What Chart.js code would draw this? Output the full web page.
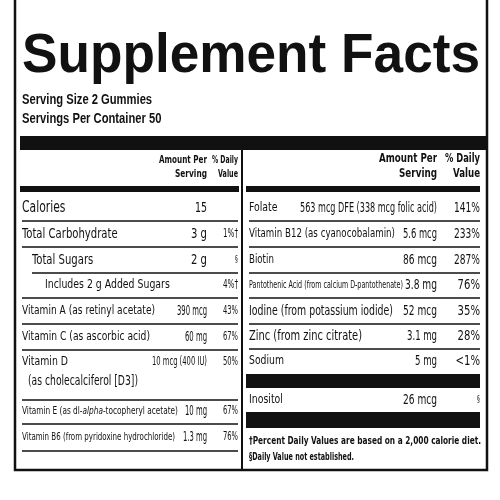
<!DOCTYPE html>
<html>
<head>
<meta charset="utf-8">
<script src="https://cdn.jsdelivr.net/npm/chart.js@4"></script>
<style>
  body { margin: 0; background: #fff; }
  #wrap { width: 500px; height: 500px; }
</style>
</head>
<body>
<div id="wrap"><canvas id="panel" width="500" height="500"></canvas></div>
<script>
// =====================================
// DATA
// =====================================

const leftNames = ["Calories", "Total Carbohydrate", "Total Sugars", "Includes 2 g Added Sugars",
    "Vitamin A (as retinyl acetate)", "Vitamin C (as ascorbic acid)", "Vitamin D",
    "Vitamin E (as dl-alpha-tocopheryl acetate)", "Vitamin B6 (from pyridoxine hydrochloride)"];
const leftAmounts = ["15", "3 g", "2 g", "", "390 mcg", "60 mg", "10 mcg (400 IU)", "10 mg", "1.3 mg"];
const leftDV = ["", "1%†", "§", "4%†", "43%", "67%", "50%", "67%", "76%"];

const rightNames = ["Folate", "Vitamin B12 (as cyanocobalamin)", "Biotin",
    "Pantothenic Acid (from calcium D-pantothenate)", "Iodine (from potassium iodide)",
    "Zinc (from zinc citrate)", "Sodium", "Inositol"];
const rightAmounts = ["563 mcg DFE (338 mcg folic acid)", "5.6 mcg", "86 mcg", "3.8 mg",
    "52 mcg", "3.1 mg", "5 mg", "26 mcg"];
const rightDV = ["141%", "233%", "287%", "76%", "35%", "28%", "<1%", "§"];

const footnotes = ["†Percent Daily Values are based on a 2,000 calorie diet.",
    "§Daily Value not established."];

// =====================================
// LAYOUT
// =====================================

const NARROW = "'Liberation Sans Narrow', 'DejaVu Sans Condensed', sans-serif";
const SQ = 0.8; // squeeze to look condensed
const leftY = [208, 234, 260, 285, 311, 337, 362, 411, 437];
const leftLines = [[22, 221], [22, 247], [32, 273], [22, 298], [22, 324], [22, 350], [22, 400], [22, 424], [22, 451]];
const leftSize = [15, 14, 14, 13, 13, 13, 13, 11, 11];
const leftIndent = [22, 22, 32, 45, 22, 22, 22, 22, 22];
const leftNameW = [60, 101, 70, 125, 133, 128, 50, 156, 153];
const leftAmtW = [12, 16, 16, 0, 30, 22, 55, 22, 24];
const rightY = [208, 234, 260, 285, 311, 336, 361, 400];
const rightSize = [13, 13, 12, 10, 14, 14, 13, 13];
const rightNameW = [32, 146, 30, 154, 144, 113, 35, 37];
const rightAmtW = [137, 34, 34, 32, 34, 30, 22, 34];

const labelPlugin = {
    id: "labels",
    afterDraw(chart) {
        const c = chart.ctx;
        const sx = chart.scales.x, sy = chart.scales.y;
        const X = v => sx.getPixelForValue(v);
        const Y = v => sy.getPixelForValue(v);
        c.save();
        c.fillStyle = "#111";
        c.strokeStyle = "#111";

        const bar = (x1, y1, x2, y2) => c.fillRect(X(x1), Y(y1), X(x2) - X(x1), Y(y2) - Y(y1));
        const line = (x1, x2, y, w) => { c.lineWidth = w; c.beginPath(); c.moveTo(X(x1), Y(y)); c.lineTo(X(x2), Y(y)); c.stroke(); };
        const text = (s, x, y, font, align, maxW) => {
            c.font = font; c.textAlign = align; c.textBaseline = "middle";
            const w = c.measureText(s).width * SQ;
            c.fillText(s, X(x), Y(y), maxW ? Math.min(maxW, w) : w);
        };

        // box
        c.lineWidth = 2.5;
        c.beginPath();
        c.moveTo(X(15), Y(0)); c.lineTo(X(15), Y(470)); c.lineTo(X(487), Y(470)); c.lineTo(X(487), Y(0));
        c.stroke();

        // title
        c.font = "bold 56px 'Liberation Sans', Arial, sans-serif"; c.textAlign = "left"; c.textBaseline = "middle";
        c.fillText("Supplement Facts", X(22), Y(57), 458);
        text("Serving Size 2 Gummies", 22, 100, "bold 14px 'Liberation Sans', sans-serif", "left", 170);
        text("Servings Per Container 50", 22, 119, "bold 14px 'Liberation Sans', sans-serif", "left", 180);

        bar(20, 136, 487, 150);
        c.lineWidth = 2; c.beginPath(); c.moveTo(X(242), Y(150)); c.lineTo(X(242), Y(470)); c.stroke();

        // headers
        const hl = "bold 11px " + NARROW, hr = "bold 13px " + NARROW;
        text("Amount Per", 207, 160, hl, "right", 48); text("Serving", 207, 174, hl, "right", 32);
        text("% Daily", 238, 160, hl, "right", 26); text("Value", 238, 174, hl, "right", 20);
        text("Amount Per", 437, 159, hr, "right", 58); text("Serving", 437, 174, hr, "right", 38);
        text("% Daily", 480, 159, hr, "right", 35); text("Value", 480, 174, hr, "right", 27);
        bar(20, 186, 239, 192);
        bar(246, 186, 480, 192);

        // left rows
        leftNames.forEach((n, i) => {
            const f = leftSize[i] + "px " + NARROW;
            const y = leftY[i];
            if (i === 7) {
                const parts = [["Vitamin E (as dl-", f], ["alpha", "italic " + f], ["-tocopheryl acetate)", f]];
                c.textAlign = "left"; c.textBaseline = "middle";
                let tot = 0;
                parts.forEach(p => { c.font = p[1]; tot += c.measureText(p[0]).width; });
                const k = leftNameW[i] / tot;
                let x = X(22);
                parts.forEach(p => {
                    c.font = p[1];
                    const w = c.measureText(p[0]).width * k;
                    c.fillText(p[0], x, Y(y), w); x += w;
                });
            } else {
                text(n, leftIndent[i], y, f, "left", leftNameW[i]);
            }
            const af = (i === 6 ? 12 : 14) + "px " + NARROW;
            if (leftAmounts[i]) text(leftAmounts[i], 207, y, af, "right", leftAmtW[i]);
            if (leftDV[i]) text(leftDV[i], 238, y, (leftDV[i] === "§" ? 8 : 12) + "px " + NARROW, "right", 15);
            if (i === 6) text("(as cholecalciferol [D3])", 28, 381, "14px " + NARROW, "left", 110);
            line(leftLines[i][0], 238, leftLines[i][1], 1.3);
        });

        // right rows
        rightNames.forEach((n, i) => {
            const y = rightY[i];
            text(n, 249, y, rightSize[i] + "px " + NARROW, "left", rightNameW[i]);
            text(rightAmounts[i], 437, y, "14px " + NARROW, "right", rightAmtW[i]);
            text(rightDV[i], 480, y, (rightDV[i] === "§" ? 8 : 14) + "px " + NARROW, "right", 26);
            if (i < 6) line(249, 480, y + 13, 1.3);
        });
        bar(246, 374, 480, 388);
        bar(246, 412, 480, 428);

        text(footnotes[0], 249, 441, "bold 11px " + NARROW, "left", 232);
        text(footnotes[1], 249, 457, "bold 11px " + NARROW, "left", 105);
        c.restore();
    }
};

new Chart(document.getElementById("panel"), {
    type: "scatter",
    data: { datasets: [{ data: [] }] },
    options: {
        responsive: false,
        animation: false,
        layout: { padding: 0 },
        plugins: { legend: { display: false }, tooltip: { enabled: false } },
        scales: {
            x: { type: "linear", min: 0, max: 500, display: false },
            y: { type: "linear", min: 0, max: 500, reverse: true, display: false }
        }
    },
    plugins: [labelPlugin]
});
</script>
</body>
</html>
